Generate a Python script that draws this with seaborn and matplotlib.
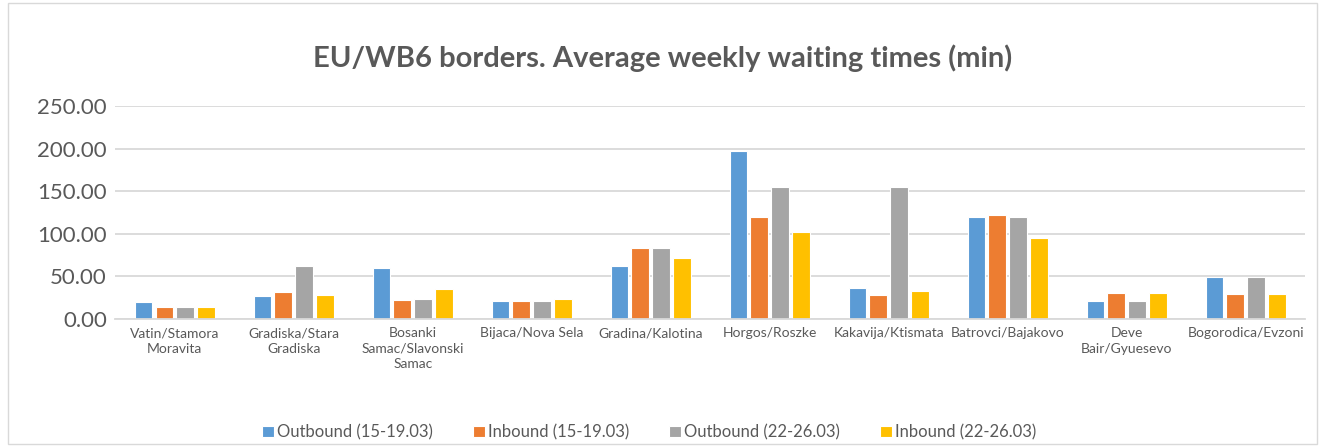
import pandas as pd
import matplotlib.pyplot as plt
import matplotlib.patches as patches
import seaborn as sns

# Border crossings (labels wrapped as in the source chart)
crossings = ['Vatin/Stamora\nMoravita', 'Gradiska/Stara\nGradiska', 'Bosanki\nSamac/Slavonski\nSamac',
             'Bijaca/Nova Sela', 'Gradina/Kalotina', 'Horgos/Roszke', 'Kakavija/Ktismata',
             'Batrovci/Bajakovo', 'Deve\nBair/Gyuesevo', 'Bogorodica/Evzoni']

series_names = ['Outbound (15-19.03)', 'Inbound (15-19.03)', 'Outbound (22-26.03)', 'Inbound (22-26.03)']

outbound_1 = [20.3, 27.0, 60.2, 21.5, 62.5, 197.3, 35.9, 119.5, 21.5, 49.6]
inbound_1 = [14.5, 31.6, 22.7, 21.5, 83.6, 119.5, 28.5, 122.7, 30.5, 29.7]
outbound_2 = [14.5, 62.5, 23.4, 21.5, 83.6, 155.0, 154.7, 119.5, 21.5, 49.6]
inbound_2 = [14.5, 28.5, 35.2, 23.4, 71.9, 101.6, 32.8, 95.7, 30.5, 29.7]

colors = ['#5B9BD5', '#ED7D31', '#A5A5A5', '#FFC000']

# Long format for seaborn
rows = []
for name, vals in zip(series_names, [outbound_1, inbound_1, outbound_2, inbound_2]):
    for c, v in zip(crossings, vals):
        rows.append({'Crossing': c, 'Series': name, 'Minutes': v})
df = pd.DataFrame(rows)

sns.set_style('white')
plt.rcParams['font.family'] = ['Lato', 'DejaVu Sans']

fig = plt.figure(figsize=(13.25, 4.48), dpi=100)
ax = fig.add_axes([0.087, 0.288, 0.898, 0.475])

sns.barplot(data=df, x='Crossing', y='Minutes', hue='Series', palette=colors, saturation=1,
            width=0.7, gap=0.15, edgecolor='white', linewidth=0.8, ax=ax)

ax.set_ylim(0, 250)
ax.set_yticks([0, 50, 100, 150, 200, 250])
ax.set_yticklabels([f'{v:.2f}' for v in [0, 50, 100, 150, 200, 250]], color='#595959', fontsize=16)
ax.tick_params(axis='x', labelsize=10, labelcolor='#595959', length=0, pad=6)
ax.tick_params(axis='y', length=0, pad=6)
for lbl in ax.get_xticklabels():
    lbl.set_linespacing(1.35)
ax.set_xlabel('')
ax.set_ylabel('')
ax.set_xlim(-0.5, 9.5)
ax.grid(axis='y', color='#D9D9D9', linewidth=1.3)
ax.set_axisbelow(True)
for s in ['top', 'right', 'left']:
    ax.spines[s].set_visible(False)
ax.spines['bottom'].set_color('#D9D9D9')
ax.spines['bottom'].set_linewidth(1.3)

fig.text(0.5, 0.87, 'EU/WB6 borders. Average weekly waiting times (min)', ha='center', va='center',
         fontsize=21, fontweight='bold', color='#595959')

ax.legend(loc='center', bbox_to_anchor=(0.49, 0.035), bbox_transform=fig.transFigure, ncol=4,
          frameon=False, fontsize=12, handlelength=0.7, handleheight=0.7, handletextpad=0.2,
          columnspacing=2.4, labelcolor='#595959')

fig.patches.append(patches.Rectangle((0.006, 0.008), 0.988, 0.985, transform=fig.transFigure,
                                     fill=False, edgecolor='#D9D9D9', linewidth=1))

fig.savefig('out.png', dpi=100)
